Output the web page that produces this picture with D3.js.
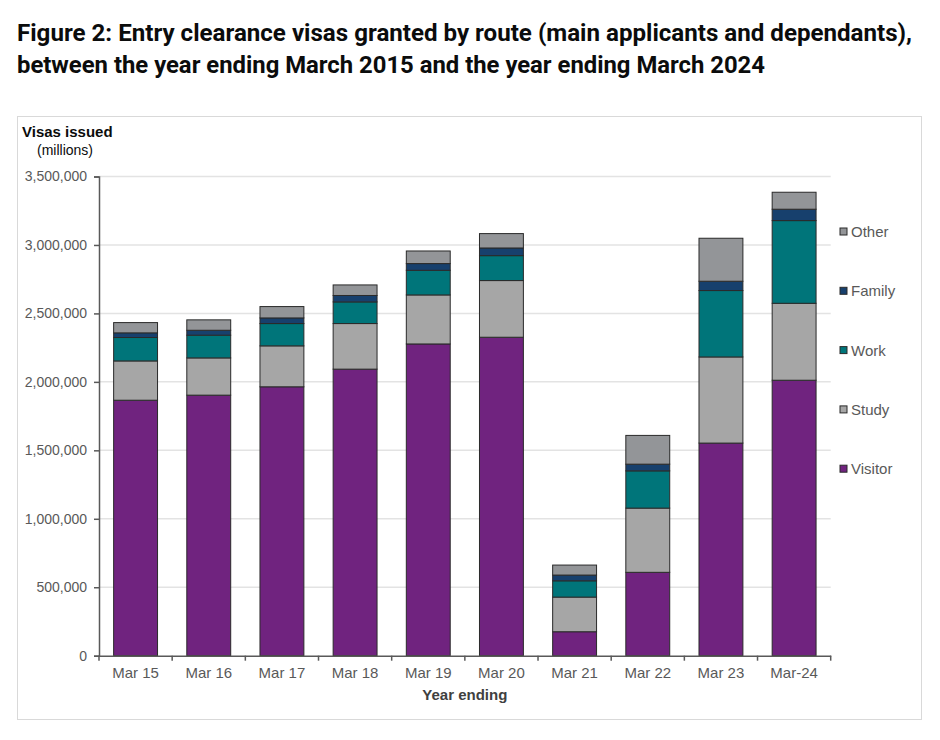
<!DOCTYPE html>
<html><head><meta charset="utf-8">
<script src="https://cdn.jsdelivr.net/npm/d3@7"></script>
<style>
body{margin:0;background:#fff;}
svg{display:block;}
text{font-family:"Liberation Sans",Arial,sans-serif;}
</style></head><body>
<svg id="c" width="940" height="740"></svg>
<script>
const categories = ["Mar 15","Mar 16","Mar 17","Mar 18","Mar 19","Mar 20","Mar 21","Mar 22","Mar 23","Mar-24"];
const visitor = [1866000,1903000,1964000,2093000,2277000,2326000,175000,609000,1553000,2012000];
const study   = [287000,272000,299000,333000,358000,414000,253000,469000,629000,562000];
const work    = [171000,166000,163000,158000,180000,182000,119000,272000,485000,604000];
const family  = [34000,36000,41000,47000,49000,56000,42000,49000,68000,83000];
const other   = [75000,76000,83000,77000,92000,105000,73000,210000,314000,124000];
const seriesNames = ["Visitor","Study","Work","Family","Other"];
const yTicks = [0,500000,1000000,1500000,2000000,2500000,3000000,3500000];
const titleLines = ["Figure 2: Entry clearance visas granted by route (main applicants and dependants),",
                    "between the year ending March 2015 and the year ending March 2024"];

const colors = {Visitor:"#70237f",Study:"#a6a6a6",Work:"#00757a",Family:"#17406d",Other:"#939598"};
const seriesData = {Visitor:visitor,Study:study,Work:work,Family:family,Other:other};
const table = categories.map((c,i)=>{const o={cat:c};seriesNames.forEach(s=>o[s]=seriesData[s][i]);return o;});

const svg = d3.select("#c");

// title
const tl = svg.append("g");
tl.append("text").attr("x",17).attr("y",41).text(titleLines[0])
  .attr("textLength",895).attr("lengthAdjust","spacingAndGlyphs");
tl.append("text").attr("x",17).attr("y",73).text(titleLines[1])
  .attr("textLength",748).attr("lengthAdjust","spacingAndGlyphs");
tl.selectAll("text").style("font-family","Roboto, 'Noto Sans', sans-serif")
  .style("font-weight","700").style("font-size","23px").attr("fill","#0b0c0c");

// frame
svg.append("rect").attr("x",17.5).attr("y",116.5).attr("width",904).attr("height",603)
  .attr("fill","none").attr("stroke","#d9d9d9");

const pLeft=99, pRight=830.7, pTop=176.5, pBottom=655.7;
const x = d3.scaleBand().domain(categories).range([pLeft,pRight]).paddingInner(0.4).paddingOuter(0.2);
const y = d3.scaleLinear().domain([0,3500000]).range([pBottom,pTop]);

// gridlines
svg.append("g").selectAll("line").data(yTicks.slice(1)).join("line")
  .attr("x1",pLeft).attr("x2",pRight).attr("y1",d=>y(d)).attr("y2",d=>y(d))
  .attr("stroke","#e3e3e3").attr("stroke-width",1.5);

// bars
const stack = d3.stack().keys(seriesNames)(table);
svg.append("g").selectAll("g").data(stack).join("g")
  .attr("fill",d=>colors[d.key])
  .selectAll("rect").data(d=>d).join("rect")
  .attr("x",d=>x(d.data.cat)).attr("width",x.bandwidth())
  .attr("y",d=>y(d[1])).attr("height",d=>y(d[0])-y(d[1]))
  .attr("stroke","#2a2a2a").attr("stroke-width",1);

// y axis
const ya = svg.append("g").attr("transform",`translate(${pLeft},0)`)
  .call(d3.axisLeft(y).tickValues(yTicks).tickFormat(d3.format(",")).tickSize(5).tickPadding(7));
ya.select(".domain").attr("stroke","#595959").attr("stroke-width",1.5);
ya.selectAll(".tick line").attr("stroke","#595959").attr("stroke-width",1.5);
ya.selectAll(".tick text").attr("fill","#595959").style("font-size","14px").style("font-family","'Liberation Sans',Arial,sans-serif");

// x axis
const xa = svg.append("g").attr("transform",`translate(0,${pBottom})`)
  .call(d3.axisBottom(x).tickSize(0).tickPadding(12));
xa.select(".domain").attr("stroke","#595959").attr("stroke-width",1.5);
xa.selectAll(".tick text").attr("fill","#595959").style("font-size","15px").style("font-family","'Liberation Sans',Arial,sans-serif");
const bounds = categories.map(c=>x(c)-x.step()*x.paddingInner()/2).concat([pRight]);
bounds[0]=pLeft;
xa.selectAll("line.bt").data(bounds).join("line").attr("class","bt")
  .attr("x1",d=>d).attr("x2",d=>d).attr("y1",0).attr("y2",5)
  .attr("stroke","#595959").attr("stroke-width",1.5);

// axis titles
svg.append("text").attr("x",22).attr("y",137).text("Visas issued")
  .style("font-size","15px").style("font-weight","700").attr("fill","#0b0c0c");
svg.append("text").attr("x",37).attr("y",155).text("(millions)")
  .style("font-size","14px").attr("fill","#0b0c0c");
svg.append("text").attr("x",(pLeft+pRight)/2).attr("y",700).attr("text-anchor","middle").text("Year ending")
  .style("font-size","15px").style("font-weight","700").attr("fill","#404040");

// legend
const legOrder = ["Other","Family","Work","Study","Visitor"];
const lg = svg.append("g").selectAll("g").data(legOrder).join("g")
  .attr("transform",(d,i)=>`translate(840,${232+i*59.3})`);
lg.append("rect").attr("x",0).attr("y",-4).attr("width",7).attr("height",7)
  .attr("fill",d=>colors[d]).attr("stroke","#2a2a2a").attr("stroke-width",1);
lg.append("text").attr("x",11).attr("y",5).text(d=>d)
  .style("font-size","15px").attr("fill","#595959");
</script>
</body></html>
